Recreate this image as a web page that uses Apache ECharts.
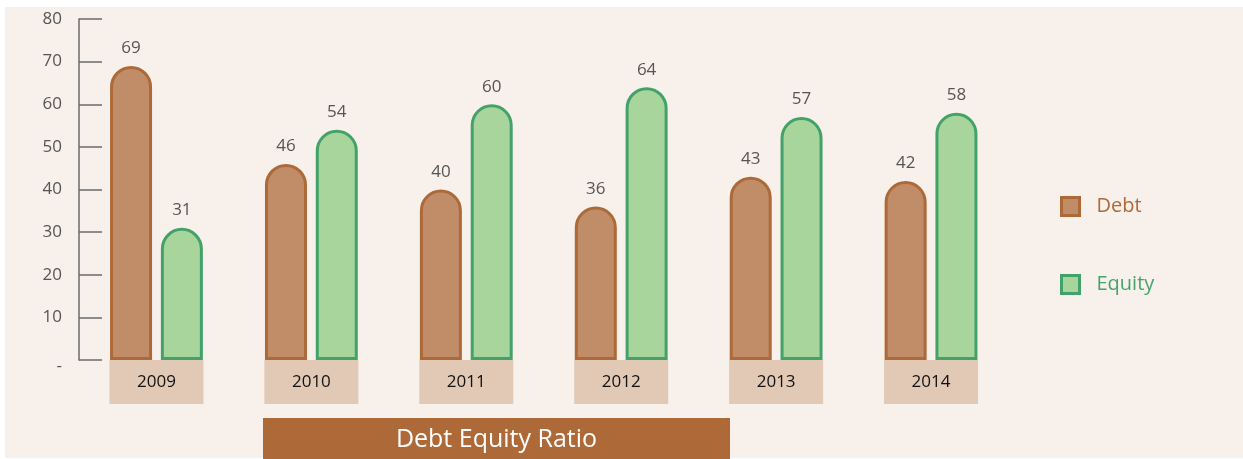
<!DOCTYPE html>
<html><head><meta charset="utf-8">
<script src="https://cdn.jsdelivr.net/npm/echarts@6/dist/echarts.min.js"></script>
<style>html,body{margin:0;padding:0;background:#fff;}#c{width:1243px;height:459px;}</style>
</head><body><div id="c"></div>
<script>
const categories = ['2009','2010','2011','2012','2013','2014'];
const debt = [69, 46, 40, 36, 43, 42];
const equity = [31, 54, 60, 64, 57, 58];
const yTicks = {min: 0, max: 80, interval: 10};
const chartTitle = 'Debt Equity Ratio';
const FONT = '"Open Sans", "Noto Sans", sans-serif';

const chart = echarts.init(document.getElementById('c'), null, {renderer: 'canvas'});
chart.setOption({
  animation: false,
  textStyle: {fontFamily: FONT},
  grid: {left: 79, right: 234.5, top: 19, bottom: 99, containLabel: false},
  graphic: [
    {type: 'rect', z: -10, shape: {x: 5, y: 7, width: 1238, height: 451}, style: {fill: '#f7f0eb'}},
    {type: 'rect', z: 10, shape: {x: 263, y: 418, width: 467, height: 45}, style: {fill: '#ad6a38'}},
    {type: 'text', z: 11, x: 496.5, y: 440, style: {text: chartTitle, fill: '#fff', font: '25px ' + FONT, align: 'center', verticalAlign: 'middle'}}
  ],
  legend: {
    orient: 'vertical', left: 1055, top: 191, itemWidth: 18, itemHeight: 18, itemGap: 57,
    icon: 'rect',
    data: [
      {name: 'Debt', textStyle: {color: '#b06a3a'}, itemStyle: {color: '#c18c68', borderColor: '#ad6a38', borderWidth: 3}},
      {name: 'Equity', textStyle: {color: '#45a46c'}, itemStyle: {color: '#a8d59b', borderColor: '#43a269', borderWidth: 3}}
    ],
    textStyle: {fontSize: 20, fontFamily: FONT, padding: [0, 0, 0, 12]}
  },
  xAxis: {
    type: 'category', data: categories,
    axisLine: {show: false}, axisTick: {show: false},
    axisLabel: {
      margin: 0, color: '#111', fontSize: 17, fontFamily: FONT,
      backgroundColor: '#e2c9b6', width: 94, height: 44, lineHeight: 44, align: 'center'
    }
  },
  yAxis: {
    type: 'value', min: yTicks.min, max: yTicks.max, interval: yTicks.interval,
    splitLine: {show: false},
    axisLine: {show: true, lineStyle: {color: '#6b6b6b', width: 1.5}},
    axisTick: {show: true, inside: true, length: 23, lineStyle: {color: '#6b6b6b', width: 1.5}},
    axisLabel: {
      margin: 17, color: '#555', fontSize: 17, fontFamily: FONT,
      formatter: v => v === 0 ? '{z|-}' : String(v),
      rich: {z: {fontSize: 17, color: '#555', padding: [12, 0, 0, 0]}}
    }
  },
  series: [
    {
      name: 'Debt', type: 'bar', data: debt, barWidth: 42, barGap: '21%',
      itemStyle: {color: '#c18c68', borderColor: '#ad6a38', borderWidth: 3, borderRadius: [20, 20, 0, 0]},
      label: {show: true, position: 'top', distance: 9, color: '#555', fontSize: 17, fontFamily: FONT}
    },
    {
      name: 'Equity', type: 'bar', data: equity, barWidth: 42,
      itemStyle: {color: '#a8d59b', borderColor: '#43a269', borderWidth: 3, borderRadius: [20, 20, 0, 0]},
      label: {show: true, position: 'top', distance: 9, color: '#555', fontSize: 17, fontFamily: FONT}
    }
  ]
});
</script></body></html>
